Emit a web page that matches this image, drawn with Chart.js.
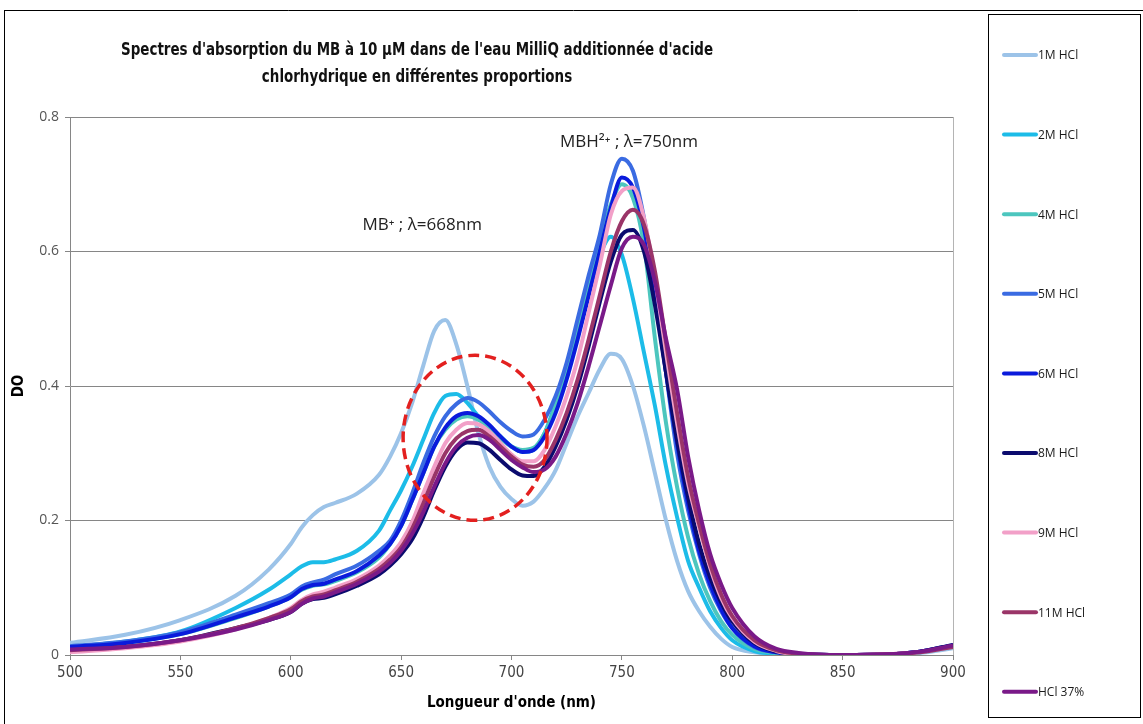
<!DOCTYPE html>
<html><head><meta charset="utf-8">
<script src="https://cdn.jsdelivr.net/npm/chart.js@4/dist/chart.umd.min.js"></script>
<style>html,body{margin:0;padding:0;background:#fff;}#wrap{width:1143px;height:724px;position:relative;}</style>
</head><body><div id="wrap"><canvas id="c" width="1143" height="724"></canvas></div>
<script>
const wavelengths = [500,525,550,575,590,600,605,610,615,620,630,640,645,650,655,660,665,670,675,680,685,690,695,700,705,710,715,720,725,730,735,740,745,750,755,760,765,770,775,780,785,790,795,800,810,820,830,850,870,885,900];
const hcl1M  = [.018,.03,.052,.088,.127,.165,.19,.208,.22,.226,.240,.268,.295,.33,.375,.43,.482,.498,.462,.40,.33,.28,.25,.232,.222,.228,.248,.275,.315,.355,.39,.425,.448,.44,.40,.34,.27,.20,.14,.095,.065,.042,.024,.012,.004,.001,0,0,0,.003,.01];
const hcl2M  = [.012,.02,.035,.07,.097,.12,.132,.138,.138,.142,.155,.185,.215,.245,.28,.32,.36,.385,.388,.375,.355,.34,.325,.31,.302,.305,.33,.375,.43,.49,.55,.595,.622,.595,.53,.45,.37,.28,.205,.14,.10,.065,.04,.022,.006,.002,0,0,0,.004,.012];
const hcl4M  = [.01,.018,.031,.055,.072,.086,.097,.103,.105,.11,.123,.145,.165,.192,.23,.27,.31,.335,.35,.355,.35,.338,.322,.31,.305,.308,.33,.37,.42,.48,.55,.615,.67,.70,.68,.61,.47,.345,.25,.175,.12,.08,.05,.03,.009,.003,.001,0,0,.004,.013];
const hcl5M  = [.013,.02,.034,.06,.077,.09,.102,.108,.112,.12,.133,.155,.17,.2,.24,.285,.325,.355,.373,.382,.376,.362,.346,.333,.325,.328,.35,.385,.435,.5,.565,.625,.70,.738,.72,.65,.55,.42,.30,.215,.15,.10,.065,.04,.012,.004,.001,0,.001,.005,.015];
const hcl6M  = [.012,.018,.031,.056,.072,.086,.098,.104,.106,.112,.125,.148,.165,.192,.23,.27,.31,.338,.355,.36,.355,.342,.325,.31,.302,.305,.325,.36,.41,.47,.535,.60,.665,.71,.695,.635,.535,.42,.315,.225,.155,.105,.068,.04,.013,.004,.001,0,.001,.005,.014];
const hcl8M  = [.006,.012,.022,.04,.052,.064,.076,.083,.085,.09,.103,.12,.133,.15,.172,.205,.245,.28,.305,.316,.315,.305,.29,.276,.267,.266,.28,.31,.35,.40,.46,.525,.585,.625,.632,.60,.52,.42,.32,.235,.165,.115,.078,.05,.018,.005,.001,0,.001,.005,.015];
const hcl9M  = [.004,.01,.02,.038,.055,.07,.082,.09,.094,.10,.113,.133,.148,.168,.198,.24,.28,.315,.335,.345,.343,.332,.315,.298,.288,.288,.305,.34,.385,.44,.51,.58,.655,.69,.695,.65,.56,.45,.345,.255,.19,.13,.085,.055,.02,.006,.001,0,.001,.004,.012];
const hcl11M = [.007,.012,.022,.04,.055,.068,.08,.087,.09,.096,.109,.128,.142,.16,.188,.225,.265,.30,.322,.333,.335,.325,.31,.295,.283,.28,.29,.32,.36,.41,.47,.535,.60,.645,.662,.64,.57,.465,.36,.265,.195,.135,.09,.058,.022,.007,.002,0,.001,.004,.012];
const hcl37  = [.008,.012,.022,.038,.052,.064,.076,.084,.087,.093,.106,.124,.137,.155,.18,.212,.25,.285,.31,.323,.327,.32,.305,.29,.279,.272,.276,.295,.33,.375,.43,.49,.55,.605,.622,.61,.555,.47,.395,.295,.215,.15,.105,.07,.028,.009,.003,0,.001,.005,.014];
const seriesLabels = ['1M HCl','2M HCl','4M HCl','5M HCl','6M HCl','8M HCl','9M HCl','11M HCl','HCl 37%'];
const seriesValues = [hcl1M,hcl2M,hcl4M,hcl5M,hcl6M,hcl8M,hcl9M,hcl11M,hcl37];
const seriesColors = ['#9cc3e8','#1cbce8','#4cc6be','#3a6be2','#0a1bdc','#0b0b6e','#f2a0c8','#9a3568','#7a1a88'];
const titleLines = ["Spectres d'absorption du MB à 10 µM dans de l'eau MilliQ additionnée d'acide","chlorhydrique en différentes proportions"];
const xTitle = "Longueur d'onde (nm)";
const yTitle = 'DO';
const note1 = 'MB\u207A ; \u03BB=668nm';
const note2 = 'MBH\u00B2\u207A ; \u03BB=750nm';

const NARROW = "'Liberation Sans Narrow','DejaVu Sans Condensed','Liberation Sans',sans-serif";

const datasets = seriesValues.map((vals,i)=>({
  label: seriesLabels[i],
  data: wavelengths.map((w,j)=>({x:w,y:vals[j]})),
  borderColor: seriesColors[i],
  backgroundColor: seriesColors[i],
  borderWidth: 4,
  pointRadius: 0,
  cubicInterpolationMode: 'monotone',
  order: seriesValues.length - i
}));

function fitText(ctx, text, cx, cy, maxW){
  const w = ctx.measureText(text).width;
  const s = Math.min(1, maxW / w);
  ctx.save(); ctx.translate(cx, cy); ctx.scale(s, 1); ctx.fillText(text, 0, 0); ctx.restore();
}

const overlay = {
  id:'overlay',
  afterDraw(chart){
    const {ctx, scales:{x,y}, chartArea:ca} = chart;
    ctx.save();
    ctx.strokeStyle='#b4b4b4'; ctx.lineWidth=1;
    ctx.beginPath(); ctx.moveTo(Math.round(ca.right)+0.5, ca.top); ctx.lineTo(Math.round(ca.right)+0.5, ca.bottom); ctx.stroke();
    const cx = x.getPixelForValue(683.5), cy = y.getPixelForValue(0.323);
    const rx = x.getPixelForValue(683.5+32.6)-cx, ry = cy - y.getPixelForValue(0.323+0.1227);
    ctx.strokeStyle='#e3201f'; ctx.lineWidth=3.5; ctx.setLineDash([11,6]);
    ctx.beginPath(); ctx.ellipse(cx,cy,rx,ry,0,0,Math.PI*2); ctx.stroke();
    ctx.setLineDash([]);
    ctx.fillStyle='#222'; ctx.font="17px 'Open Sans',sans-serif"; ctx.textBaseline='middle'; ctx.textAlign='left';
    ctx.fillText(note1, x.getPixelForValue(632.5), y.getPixelForValue(0.639));
    ctx.fillText(note2, x.getPixelForValue(722), y.getPixelForValue(0.763));
    ctx.fillStyle='#111'; ctx.font="bold 18px "+NARROW; ctx.textAlign='center';
    fitText(ctx, titleLines[0], 417, 50, 592);
    fitText(ctx, titleLines[1], 417, 77, 592*ctx.measureText(titleLines[1]).width/ctx.measureText(titleLines[0]).width);
    ctx.strokeStyle='#000'; ctx.lineWidth=1;
    ctx.beginPath(); ctx.moveTo(4,10.5); ctx.lineTo(1143,10.5); ctx.moveTo(4.5,10); ctx.lineTo(4.5,724); ctx.stroke();
    ctx.strokeRect(988.5,14.5,152,703);
    ctx.font="12px 'Open Sans',sans-serif"; ctx.textAlign='left';
    chart.data.datasets.forEach((ds,i)=>{
      const yy = 55 + i*79.6;
      ctx.strokeStyle=ds.borderColor; ctx.lineWidth=4; ctx.lineCap='round';
      ctx.beginPath(); ctx.moveTo(1004,yy); ctx.lineTo(1036,yy); ctx.stroke();
      ctx.fillStyle='#1a1a1a'; ctx.fillText(ds.label,1038,yy+1);
    });
    ctx.restore();
  }
};

new Chart(document.getElementById('c'),{
  type:'line',
  data:{datasets},
  options:{
    responsive:false, animation:false,
    layout:{padding:{left:0,top:117,right:190,bottom:0}},
    plugins:{legend:{display:false},tooltip:{enabled:false},title:{display:false}},
    scales:{
      x:{type:'linear',min:500,max:900,
        ticks:{stepSize:50,color:'#444',font:{family:NARROW,size:15},padding:4},
        grid:{drawOnChartArea:false,drawTicks:true,tickLength:5,color:'#868686'},
        border:{color:'#868686'},
        title:{display:true,text:xTitle,color:'#000',font:{family:NARROW,size:15,weight:'bold'},padding:{top:0,bottom:12}},
        afterFit:(s)=>{s.height=69;}
      },
      y:{min:0,max:0.8,
        ticks:{stepSize:0.2,color:'#555',font:{family:"'Open Sans',sans-serif",size:14},padding:6,
          callback:(v)=> v===0?'0':v.toFixed(1)},
        grid:{color:'#868686',tickLength:5,drawTicks:true},
        border:{color:'#868686'},
        title:{display:true,text:yTitle,color:'#000',font:{family:NARROW,size:15,weight:'bold'},padding:{top:10}},
        afterFit:(s)=>{s.width=70;}
      }
    }
  },
  plugins:[overlay]
});
</script></body></html>
